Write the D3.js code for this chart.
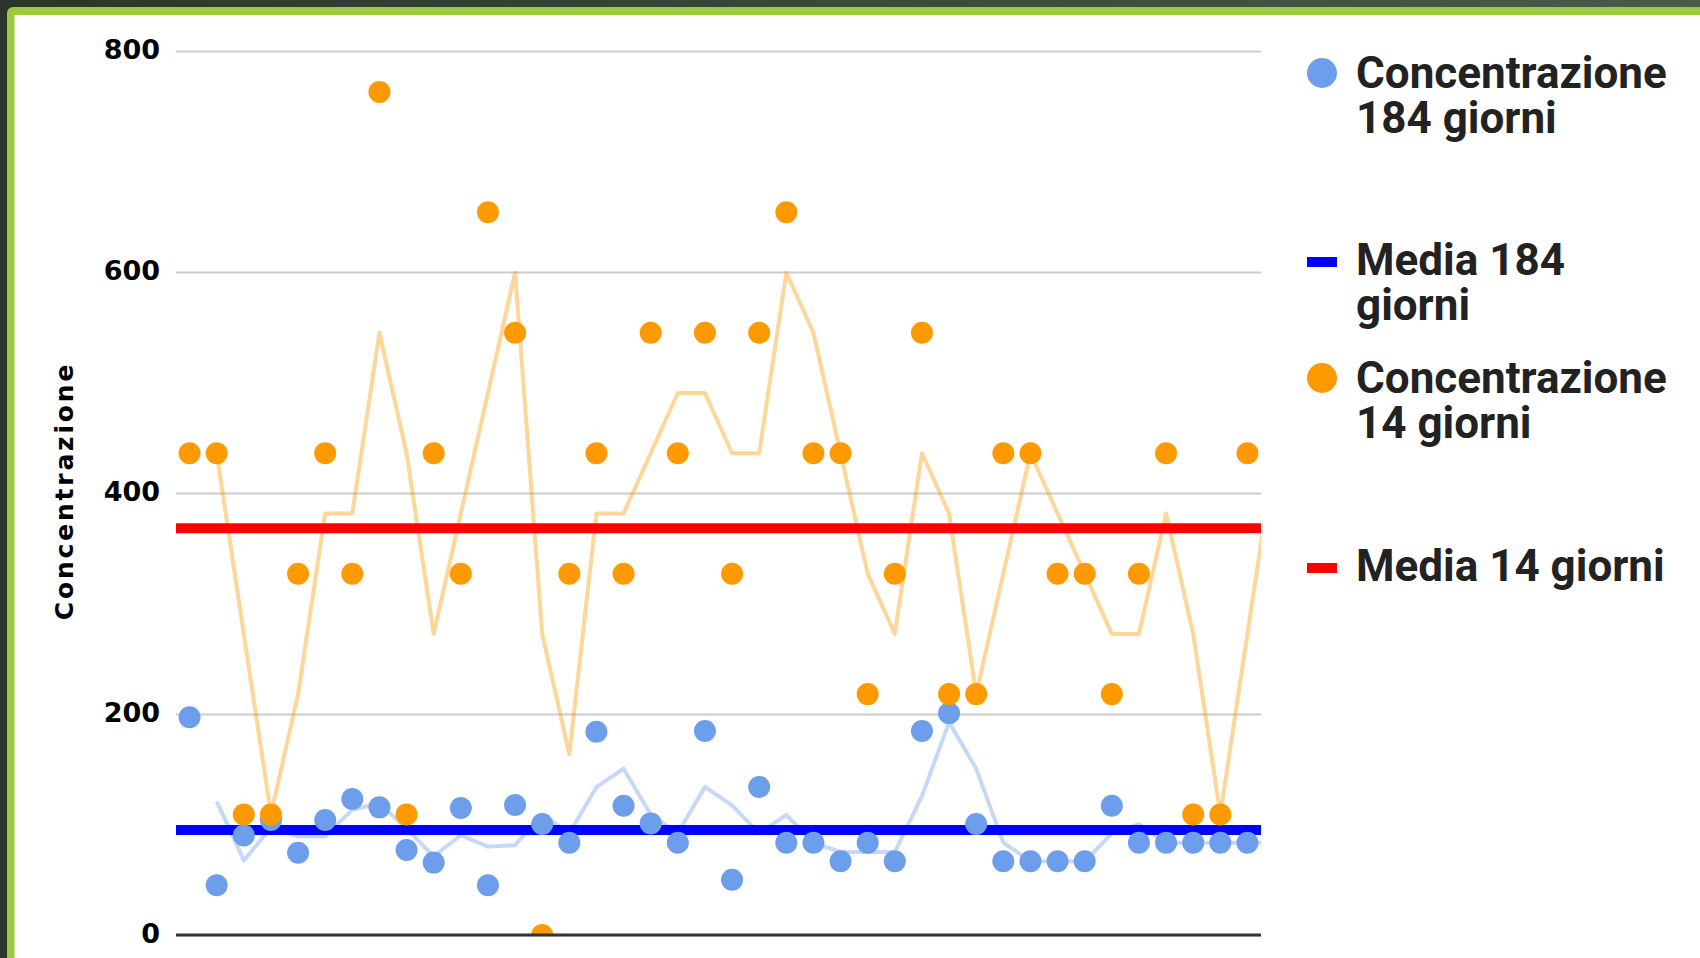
<!DOCTYPE html>
<html lang="it">
<head>
<meta charset="utf-8">
<title>Concentrazione 184 / 14 giorni</title>
<script src="https://cdn.jsdelivr.net/npm/d3@7"></script>
<style>
  html, body { margin: 0; padding: 0; background: #ffffff; }
  svg { display: block; }
</style>
</head>
<body>
<svg id="chart" width="1700" height="958"></svg>
<script>
// Campioni (l'ultimo cade oltre il bordo destro dell'area del grafico)
const campioni = d3.range(1, 42);

// Concentrazione misurata a 184 giorni
const conc184 = [197, 45, 90, 104, 74.5, 104, 123, 115.5, 77, 65.5,
                 115, 45, 117.6, 100.5, 83.5, 184, 117, 101, 83.5, 184.6,
                 50, 134, 83.5, 83.5, 66.7, 83.5, 66.7, 184.6, 200.6, 100.5,
                 66.7, 66.7, 66.7, 66.7, 117, 83.5, 83.5, 83.5, 83.5, 83.5,
                 83.5];

// Concentrazione misurata a 14 giorni
const conc14 = [436, 436, 109, 109, 327, 436, 327, 763, 109, 436,
                327, 654, 545, 0, 327, 436, 327, 545, 436, 545,
                327, 545, 654, 436, 436, 218, 327, 545, 218, 218,
                436, 436, 327, 327, 218, 327, 436, 109, 109, 436,
                436];

// Medie di riferimento
const media184 = [95];
const media14 = [368];

// Tacche dell'asse verticale
const yTicks = [0, 200, 400, 600, 800];

const legendItems = [
  { tipo: "dot",  colore: "#6d9eeb", righe: ["Concentrazione", "184 giorni"] },
  { tipo: "dash", colore: "#0000ff", righe: ["Media 184", "giorni"] },
  { tipo: "dot",  colore: "#ff9900", righe: ["Concentrazione", "14 giorni"] },
  { tipo: "dash", colore: "#ff0000", righe: ["Media 14 giorni"] }
];

const W = 1700, H = 958;
const plot = { left: 176, right: 1261, top: 51, bottom: 935 };
const visibili = 40;

const svg = d3.select("#chart");

// Cornice: fascia scura e bordo verde
const defs = svg.append("defs");
const grad = defs.append("linearGradient").attr("id", "fascia").attr("x1", 0).attr("x2", 1);
grad.append("stop").attr("offset", 0).attr("stop-color", "#2c352c");
grad.append("stop").attr("offset", 1).attr("stop-color", "#4a5a4b");
svg.append("rect").attr("width", W).attr("height", H).attr("fill", "url(#fascia)");
svg.append("rect").attr("x", 7).attr("y", 7).attr("width", W + 20).attr("height", H + 20)
  .attr("rx", 6).attr("fill", "#9bcb3b");
svg.append("rect").attr("x", 14.5).attr("y", 15).attr("width", W).attr("height", H)
  .attr("fill", "#ffffff");

defs.append("clipPath").attr("id", "area")
  .append("rect")
  .attr("x", plot.left).attr("y", 20)
  .attr("width", plot.right - plot.left).attr("height", plot.bottom - 20);

const x = d3.scaleLinear().domain([-0.5, visibili - 0.5]).range([plot.left, plot.right]);
const y = d3.scaleLinear().domain([0, 800]).range([plot.bottom, plot.top]);

// Griglia orizzontale ed etichette
const asse = d3.axisLeft(y)
  .tickValues(yTicks)
  .tickSize(-(plot.right - plot.left))
  .tickPadding(16)
  .tickFormat(d3.format("d"));

const gAsse = svg.append("g")
  .attr("transform", `translate(${plot.left},0)`)
  .call(asse);
gAsse.select(".domain").remove();
gAsse.selectAll(".tick line")
  .attr("stroke", "#cccccc")
  .attr("stroke-width", 2);
gAsse.selectAll(".tick text")
  .attr("fill", "#000")
  .attr("dy", "0.28em")
  .style("font-family", "'DejaVu Sans', sans-serif")
  .style("font-weight", "bold")
  .style("font-size", "27px");

// Titolo dell'asse verticale
svg.append("text")
  .attr("transform", `translate(73,${(plot.top + plot.bottom) / 2 - 2}) rotate(-90)`)
  .attr("text-anchor", "middle")
  .style("font-family", "'DejaVu Sans', sans-serif")
  .style("font-weight", "bold")
  .style("font-size", "25px")
  .style("letter-spacing", "2.8px")
  .attr("fill", "#000")
  .text("Concentrazione");

const serie = svg.append("g").attr("clip-path", "url(#area)");

// Medie mobili a due periodi
function mediaMobile(valori) {
  return valori.map((v, i) => i === 0 ? null : (valori[i - 1] + v) / 2);
}
const linea = d3.line()
  .defined(d => d.v !== null)
  .x(d => x(d.i))
  .y(d => y(d.v));

[[conc184, "#6d9eeb"], [conc14, "#ff9900"]].forEach(([valori, colore]) => {
  serie.append("path")
    .datum(mediaMobile(valori).map((v, i) => ({ i, v })))
    .attr("d", linea)
    .attr("fill", "none")
    .attr("stroke", colore)
    .attr("stroke-opacity", 0.4)
    .attr("stroke-width", 4)
    .attr("stroke-linejoin", "round");
});

// Linee delle medie
[[media184, "#0000ff"], [media14, "#ff0000"]].forEach(([m, colore]) => {
  serie.selectAll(null)
    .data(m)
    .join("line")
    .attr("x1", plot.left).attr("x2", plot.right)
    .attr("y1", d => y(d)).attr("y2", d => y(d))
    .attr("stroke", colore)
    .attr("stroke-width", 10);
});

// Punti
serie.selectAll("circle.c184")
  .data(conc184)
  .join("circle")
  .attr("class", "c184")
  .attr("cx", (d, i) => x(i))
  .attr("cy", d => y(d))
  .attr("r", 11)
  .attr("fill", "#6d9eeb");

serie.selectAll("circle.c14")
  .data(conc14)
  .join("circle")
  .attr("class", "c14")
  .attr("cx", (d, i) => x(i))
  .attr("cy", d => y(d))
  .attr("r", 11)
  .attr("fill", "#ff9900");

// Linea di base
svg.append("line")
  .attr("x1", plot.left).attr("x2", plot.right)
  .attr("y1", y(0)).attr("y2", y(0))
  .attr("stroke", "#333333")
  .attr("stroke-width", 3);

// Legenda
const legenda = svg.append("g");
const baseLeg = [88, 275, 393, 581];
const passoRiga = 45;
legendItems.forEach((it, k) => {
  const g = legenda.append("g");
  const b = baseLeg[k];
  if (it.tipo === "dot") {
    g.append("circle").attr("cx", 1322).attr("cy", b - 15).attr("r", 15).attr("fill", it.colore);
  } else {
    g.append("rect").attr("x", 1307).attr("y", b - 18).attr("width", 30).attr("height", 10).attr("fill", it.colore);
  }
  const t = g.append("text")
    .attr("x", 1356)
    .attr("y", b)
    .attr("fill", "#222222")
    .style("font-family", "Roboto, sans-serif")
    .style("font-weight", "bold")
    .style("font-size", "44px");
  it.righe.forEach((r, j) => {
    t.append("tspan").attr("x", 1356).attr("y", b + j * passoRiga).text(r);
  });
});
</script>
</body>
</html>
